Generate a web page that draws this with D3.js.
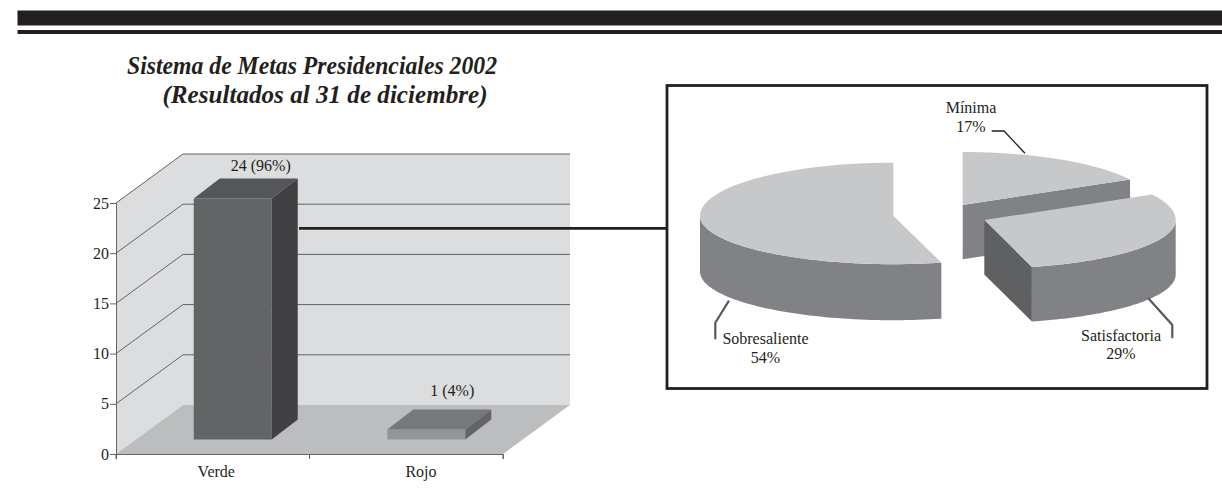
<!DOCTYPE html>
<html><head><meta charset="utf-8">
<script src="https://cdn.jsdelivr.net/npm/d3@7"></script>
<style>html,body{margin:0;padding:0;background:#fff}svg{display:block}text{font-family:"Liberation Serif",serif;fill:#231f20}</style>
</head><body><svg id="c" width="1222" height="493"></svg>
<script>
const titleLines = ["Sistema de Metas Presidenciales 2002", "(Resultados al 31 de diciembre)"];
const barCategories = ["Verde", "Rojo"];
const barValues = [24, 1];
const barLabels = ["24 (96%)", "1 (4%)"];
const yTicks = [0, 5, 10, 15, 20, 25];
const pieCategories = ["Mínima", "Satisfactoria", "Sobresaliente"];
const pieValues = [17, 29, 54];

const svg = d3.select("#c");
// Header rules
svg.append("rect").attr("x",17.5).attr("y",10.5).attr("width",1204.5).attr("height",15).attr("fill","#231f20");
svg.append("rect").attr("x",17.5).attr("y",30).attr("width",1204.5).attr("height",4).attr("fill","#231f20");
// Title
const titleLayout=[{x:312,y:74,w:370},{x:325,y:103,w:325}];
svg.selectAll(".title").data(titleLines).join("text").attr("class","title")
  .attr("x",(d,i)=>titleLayout[i].x).attr("y",(d,i)=>titleLayout[i].y).attr("text-anchor","middle")
  .attr("textLength",(d,i)=>titleLayout[i].w).attr("lengthAdjust","spacingAndGlyphs")
  .style("font-size","24.5px").style("font-weight","bold").style("font-style","italic").text(d=>d);

// 3D bar chart
const y = d3.scaleLinear().domain([0,25]).range([454,203]);
const x = d3.scaleBand().domain(barCategories).range([116,503]);
const depth = {dx:67, dy:-49};
const line = d3.line();
const poly = (pts,fill,stroke)=>svg.append("path").attr("d",line(pts)+"Z").attr("fill",fill).attr("stroke",stroke||"none");
const x0=x.range()[0], x1=x.range()[1], yTop=y(25), yBase=y(0);
poly([[x0,yBase],[x0,yTop],[x0+depth.dx,yTop+depth.dy],[x0+depth.dx,yBase+depth.dy]],"#dcddde");
poly([[x0+depth.dx,yTop+depth.dy],[x1+depth.dx,yTop+depth.dy],[x1+depth.dx,yBase+depth.dy],[x0+depth.dx,yBase+depth.dy]],"#dcddde");
poly([[x0,yBase],[x1,yBase],[x1+depth.dx,yBase+depth.dy],[x0+depth.dx,yBase+depth.dy]],"#bcbdbf");
const gridColor="#636466";
yTicks.filter(t=>t>0).forEach(t=>{
  svg.append("path").attr("fill","none").attr("stroke",gridColor).attr("stroke-width",1)
    .attr("d",line([[x0,y(t)],[x0+depth.dx,y(t)+depth.dy],[x1+depth.dx,y(t)+depth.dy]]));
});
const axisL = svg.append("g").attr("transform",`translate(${x0},0)`).call(d3.axisLeft(y).tickValues(yTicks).tickSize(6).tickPadding(1));
const axisB = svg.append("g").attr("transform",`translate(0,${yBase})`).call(d3.axisBottom(x).tickSize(5).tickPadding(7));
[axisL,axisB].forEach(a=>{a.selectAll("path,line").attr("stroke",gridColor);a.select(".domain").attr("stroke-width",1);a.selectAll("text").style("font-size","16px").style("font-family",'"Liberation Serif",serif').attr("fill","#231f20");});
axisB.selectAll(".tick").remove();
const catLabelShift=[3.5,14.7];
barCategories.forEach((c,i)=>{
  axisB.append("text").attr("x",x(c)+x.bandwidth()/2+catLabelShift[i]).attr("y",23).attr("text-anchor","middle").style("font-size","16px").attr("fill","#231f20").text(c);
});
[x0,x0+x.bandwidth(),x1].forEach(px=>axisB.append("line").attr("x1",px).attr("x2",px).attr("y1",0).attr("y2",5).attr("stroke",gridColor));
const barW=78, offX=20, offY=-14.5, bdx=26, bdy=-20;
const barStyles=[{front:"#636466",top:"#555659",side:"#414042"},{front:"#939598",top:"#77787b",side:"#636466"}];
const barLabelShift=[{dx:28,dy:8},{dx:26,dy:13}];
barValues.forEach((v,i)=>{
  const c=barCategories[i], l=x(c)+x.bandwidth()/2+offX-barW/2, r=l+barW;
  const b=yBase+offY, t=yBase+offY-(yBase-y(v)), s=barStyles[i];
  poly([[l,b],[r,b],[r,t],[l,t]],s.front);
  poly([[l,t],[r,t],[r+bdx,t+bdy],[l+bdx,t+bdy]],s.top);
  poly([[r,b],[r+bdx,b+bdy],[r+bdx,t+bdy],[r,t]],s.side);
  svg.append("text").attr("x",(r+l)/2+barLabelShift[i].dx).attr("y",t+bdy-barLabelShift[i].dy).attr("text-anchor","middle").style("font-size","16px").text(barLabels[i]);
});
// connector and box
svg.append("path").attr("d",line([[299,228.4],[667,228.4]])).attr("stroke","#231f20").attr("stroke-width",2.8).attr("fill","none");
svg.append("rect").attr("x",667).attr("y",85.5).attr("width",540).attr("height",303).attr("fill","#fff").attr("stroke","#231f20").attr("stroke-width",2.8);

// 3D pie
const pieAngles = d3.pie().sort(null).value(d=>d)(pieValues);
const ryBack=53, ryFront=48.5;
const centers=[{cx:962.7,cy:205,h:54.3,rx:191},{cx:984.3,cy:220,h:54.5,rx:191.4},{cx:893.3,cy:215.7,h:56,rx:193.3}];
const pt=(c,a,dz=0)=>[c.cx+c.rx*Math.sin(a), c.cy-(Math.cos(a)>0?ryBack:ryFront)*Math.cos(a)+dz];
const arcPts=(c,a0,a1,dz=0)=>d3.range(0,61).map(k=>pt(c,a0+(a1-a0)*k/60,dz));
const sideC="#808285", topC="#c7c8ca", cutC="#5f6062";
pieAngles.forEach((s,i)=>{
  const c=centers[i], A=s.startAngle, B=s.endAngle, apex=[c.cx,c.cy], apexB=[c.cx,c.cy+c.h];
  if(i===0) poly([apex,pt(c,B),pt(c,B,c.h),apexB],sideC);
  if(i===1) poly([apex,pt(c,B),pt(c,B,c.h),apexB],cutC);
  const v0=Math.max(A,Math.PI/2), v1=Math.min(B,Math.PI*1.5);
  if(v1>v0) poly(arcPts(c,v0,v1).concat(arcPts(c,v1,v0,c.h)),sideC);
  poly([apex].concat(arcPts(c,A,B)),topC);
});
// leaders
const leader=(pts,col,w)=>svg.append("path").attr("d",line(pts)).attr("fill","none").attr("stroke",col).attr("stroke-width",w);
leader([[991.7,131],[1004,131],[1025,153.3]],"#231f20",1.3);
leader([[729,300.7],[715.3,322.7],[715.3,339.3]],"#58595b",2.2);
leader([[1148.3,298.3],[1172.3,325],[1172.3,338.3]],"#58595b",2.2);
// pie labels
const pieLabelPos=[{x:971,y:[113,131.7]},{x:1121,y:[340.7,359.3]},{x:765.5,y:[344,363.3]}];
pieCategories.forEach((n,i)=>{
  const p=pieLabelPos[i];
  [n,pieValues[i]+"%"].forEach((t,k)=>svg.append("text").attr("x",p.x).attr("y",p.y[k]).attr("text-anchor","middle").style("font-size","16px").text(t));
});
</script></body></html>
